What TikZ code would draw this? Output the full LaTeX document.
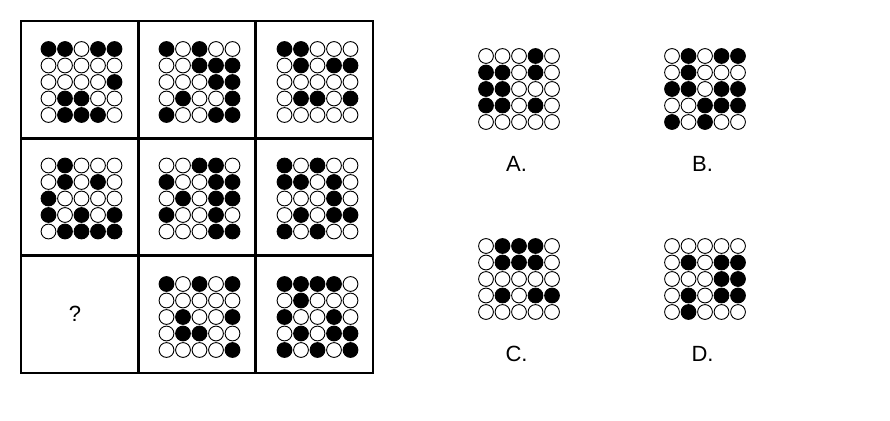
\documentclass[tikz,border=0pt]{standalone}
\usepackage{fontspec}
\setmainfont{Liberation Sans}
\tikzset{
  dotc/.style={draw=black, line width=0.9pt},
  frame/.style={draw=black, line width=1.3pt},
  divider/.style={draw=black, line width=2.6pt},
  lbl/.style={inner sep=0pt, font=\fontsize{22}{24}\selectfont}
}
\newcommand{\dotgrid}[3]{%
  \foreach \rw [count=\i] in {#3}{%
    \foreach \v [count=\j] in \rw {%
      \ifnum\v=1 \def\fc{black}\else\def\fc{white}\fi
      \draw[dotc, fill=\fc] ({#1+(\j-3)*16.5},{#2+(\i-3)*16.5}) circle (7.4pt);
    }}}
\begin{document}
\begin{tikzpicture}[x=1pt,y=-1pt]
\useasboundingbox (0,0) rectangle (890,420);
% frame and dividers
\draw[divider] (138.3,21) -- (138.3,373);
\draw[divider] (255.7,21) -- (255.7,373);
\draw[divider] (21,138.3) -- (373,138.3);
\draw[divider] (21,255.7) -- (373,255.7);
\draw[frame] (21,21) rectangle (373,373);
% row 1
\dotgrid{81.5}{82}{{1,1,0,1,1},{0,0,0,0,0},{0,0,0,0,1},{0,1,1,0,0},{0,1,1,1,0}}
\dotgrid{199.5}{82}{{1,0,1,0,0},{0,0,1,1,1},{0,0,0,1,1},{0,1,0,0,1},{1,0,0,1,1}}
\dotgrid{317.5}{82}{{1,1,0,0,0},{0,1,0,1,1},{0,0,0,0,0},{0,1,1,0,1},{0,0,0,0,0}}
% row 2
\dotgrid{81.5}{198.5}{{0,1,0,0,0},{0,1,0,1,0},{1,0,0,0,0},{1,0,1,0,1},{0,1,1,1,1}}
\dotgrid{199.5}{198.5}{{0,0,1,1,0},{1,0,0,1,1},{0,1,0,1,1},{1,0,0,1,0},{0,0,0,1,1}}
\dotgrid{317.5}{198.5}{{1,0,1,0,0},{1,1,0,1,0},{0,0,0,1,0},{0,1,0,1,1},{1,0,1,0,0}}
% row 3
\node[lbl] (q) at (75,314) {?};
\dotgrid{199.5}{317}{{1,0,1,0,1},{0,0,0,0,0},{0,1,0,0,1},{0,1,1,0,0},{0,0,0,0,1}}
\dotgrid{317.5}{317}{{1,1,1,1,0},{0,1,0,0,0},{1,0,0,1,0},{0,1,0,1,1},{1,0,1,0,1}}
% options
\dotgrid{519}{89}{{0,0,0,1,0},{1,1,0,1,0},{1,1,0,0,0},{1,1,0,1,0},{0,0,0,0,0}}
\dotgrid{705}{89}{{0,1,0,1,1},{0,1,0,0,0},{1,1,0,1,1},{0,0,1,1,1},{1,0,1,0,0}}
\dotgrid{519}{279}{{0,1,1,1,0},{0,1,1,1,0},{0,0,0,0,0},{0,1,0,1,1},{0,0,0,0,0}}
\dotgrid{705}{279}{{0,0,0,0,0},{0,1,0,1,1},{0,0,0,1,1},{0,1,0,1,1},{0,1,0,0,0}}
\node[lbl] (la) at (516.5,164) {A.};
\node[lbl] (lb) at (702.5,164) {B.};
\node[lbl] (lc) at (516.5,354) {C.};
\node[lbl] (ld) at (702.5,354) {D.};
\end{tikzpicture}
\end{document}
